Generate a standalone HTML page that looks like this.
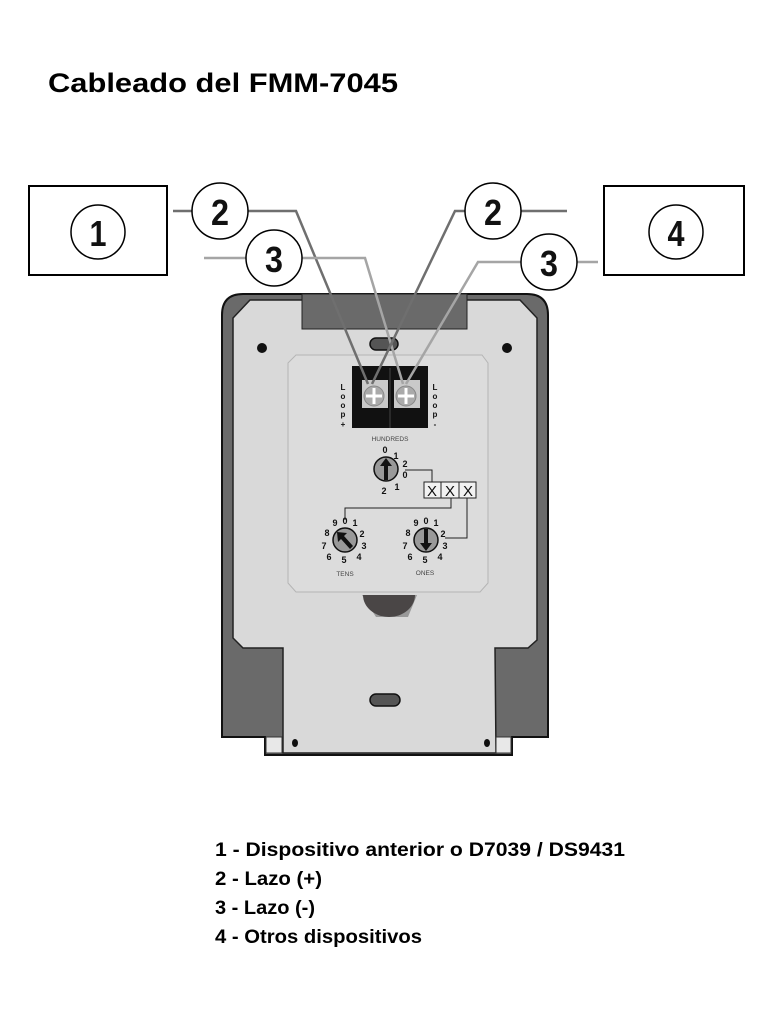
<!DOCTYPE html>
<html><head><meta charset="utf-8"><style>
html,body{margin:0;padding:0;background:#fff;width:768px;height:1024px;overflow:hidden}
svg{display:block}
.t{font-family:"Liberation Sans",sans-serif;font-weight:bold;fill:#000}
.n{font-family:"Liberation Sans",sans-serif;font-weight:bold;fill:#111;text-anchor:middle}
</style></head><body>
<svg width="768" height="1024" viewBox="0 0 768 1024" xmlns="http://www.w3.org/2000/svg">
<text class="t" x="48" y="92" font-size="27" textLength="350" lengthAdjust="spacingAndGlyphs">Cableado del FMM-7045</text>

<!-- boxes -->
<rect x="29" y="186" width="138" height="89" fill="#fff" stroke="#000" stroke-width="2"/>
<circle cx="98" cy="232" r="27" fill="#fff" stroke="#000" stroke-width="1.5"/>
<text class="n" x="98" y="246" font-size="36" textLength="17" lengthAdjust="spacingAndGlyphs">1</text>
<rect x="604" y="186" width="140" height="89" fill="#fff" stroke="#000" stroke-width="2"/>
<circle cx="676" cy="232" r="27" fill="#fff" stroke="#000" stroke-width="1.5"/>
<text class="n" x="676" y="246" font-size="36" textLength="17" lengthAdjust="spacingAndGlyphs">4</text>

<!-- housing -->
<path d="M222 315 Q222 294 243 294 L527 294 Q548 294 548 315 L548 737 L512 737 L512 755 L265 755 L265 737 L222 737 Z" fill="#6a6a6a" stroke="#111" stroke-width="2"/>
<path d="M250 300 L520 300 L537 318 L537 640 L528 648 L495 648 L496 753 L283 753 L283 648 L243 648 L233 638 L233 318 Z" fill="#d9d9d9" stroke="#222" stroke-width="1.5"/>
<rect x="266" y="737" width="16" height="16" fill="#e8e8e8" stroke="#333"/>
<rect x="496" y="737" width="15" height="16" fill="#e8e8e8" stroke="#333"/>
<rect x="302" y="294" width="165" height="35" fill="#6a6a6a" stroke="#222" stroke-width="1"/>
<circle cx="262" cy="348" r="5" fill="#111"/>
<circle cx="507" cy="348" r="5" fill="#111"/>
<rect x="370" y="338" width="28" height="12" rx="6" fill="#555" stroke="#111" stroke-width="1.5"/>
<rect x="370" y="694" width="30" height="12" rx="6" fill="#555" stroke="#111" stroke-width="1.5"/>
<ellipse cx="295" cy="743" rx="3" ry="4" fill="#111"/>
<ellipse cx="487" cy="743" rx="3" ry="4" fill="#111"/>
<path d="M362 595 L417 595 L408 617 L376 617 Z" fill="#999"/>
<path d="M363 595 A26 22 0 0 0 415 595 Z" fill="#4a4646"/>
<!-- inner panel -->
<path d="M296 355 L482 355 L488 363 L488 583 L480 592 L296 592 L288 583 L288 363 Z" fill="#dcdcdc" stroke="#b5b5b5" stroke-width="1"/>

<!-- terminal block -->
<rect x="352" y="366" width="76" height="62" fill="#111"/>
<rect x="362" y="380" width="26" height="28" fill="#c9c9c9"/>
<rect x="394" y="380" width="26" height="28" fill="#c9c9c9"/>
<circle cx="374" cy="396" r="10" fill="#aaa" stroke="#888"/>
<circle cx="406" cy="396" r="10" fill="#aaa" stroke="#888"/>
<path d="M366 396 H382 M374 388 V404 M398 396 H414 M406 388 V404" stroke="#fff" stroke-width="3"/>
<line x1="390" y1="368" x2="390" y2="428" stroke="#444" stroke-width="1"/>
<g font-family="Liberation Sans,sans-serif" font-weight="bold" font-size="8" fill="#111" text-anchor="middle">
<text x="343" y="390">L</text><text x="343" y="399">o</text><text x="343" y="408">o</text><text x="343" y="417">p</text><text x="343" y="427">+</text>
<text x="435" y="390">L</text><text x="435" y="399">o</text><text x="435" y="408">o</text><text x="435" y="417">p</text><text x="435" y="427">-</text>
</g>
<text x="390" y="441" font-family="Liberation Sans,sans-serif" font-size="6.5" fill="#444" text-anchor="middle">HUNDREDS</text>
<text x="345" y="576" font-family="Liberation Sans,sans-serif" font-size="6.5" fill="#444" text-anchor="middle">TENS</text>
<text x="425" y="575" font-family="Liberation Sans,sans-serif" font-size="6.5" fill="#444" text-anchor="middle">ONES</text>

<!-- dial connections -->
<path d="M405 470 H432 V482" fill="none" stroke="#222" stroke-width="1"/>
<path d="M451 498 V508 H345 V520" fill="none" stroke="#222" stroke-width="1"/>
<path d="M467 498 V538 H445" fill="none" stroke="#222" stroke-width="1"/>
<rect x="424" y="482" width="52" height="16" fill="#f2f2f2" stroke="#222"/>
<line x1="441" y1="482" x2="441" y2="498" stroke="#222"/><line x1="459" y1="482" x2="459" y2="498" stroke="#222"/>
<g font-family="Liberation Sans,sans-serif" font-size="15" fill="#111" text-anchor="middle"><text x="432" y="496">X</text><text x="450" y="496">X</text><text x="468" y="496">X</text></g>

<!-- dials -->
<circle cx="386" cy="469" r="12" fill="#999" stroke="#111" stroke-width="1.5"/>
<path d="M386 458 L380 466 H384 V480 H388 V466 H392 Z" fill="#111"/>
<circle cx="345" cy="540" r="12" fill="#999" stroke="#111" stroke-width="1.5"/>
<path d="M337 532 L347 533 L344 536 L353 546 L350 549 L341 539 L338 542 Z" fill="#111"/>
<circle cx="426" cy="540" r="12" fill="#999" stroke="#111" stroke-width="1.5"/>
<path d="M426 551 L420 543 H424 V529 H428 V543 H432 Z" fill="#111"/>
<g font-family="Liberation Sans,sans-serif" font-weight="bold" font-size="9" fill="#111" text-anchor="middle">
<text x="385" y="453">0</text><text x="396" y="459">1</text><text x="405" y="467">2</text><text x="405" y="478">0</text><text x="397" y="490">1</text><text x="384" y="494">2</text>
<text x="345" y="524">0</text><text x="335" y="526">9</text><text x="355" y="526">1</text><text x="327" y="536">8</text><text x="362" y="537">2</text><text x="324" y="549">7</text><text x="364" y="549">3</text><text x="329" y="560">6</text><text x="359" y="560">4</text><text x="344" y="563">5</text>
<text x="426" y="524">0</text><text x="416" y="526">9</text><text x="436" y="526">1</text><text x="408" y="536">8</text><text x="443" y="537">2</text><text x="405" y="549">7</text><text x="445" y="549">3</text><text x="410" y="560">6</text><text x="440" y="560">4</text><text x="425" y="563">5</text>
</g>

<!-- wires -->
<g fill="none" stroke-width="2.5">
<path d="M173 211 H192 M248 211 H296 L368 384" stroke="#6f6f6f"/>
<path d="M204 258 H246 M302 258 H365 L403 384" stroke="#a5a5a5"/>
<path d="M521 211 H567 M465 211 H455 L372 384" stroke="#6f6f6f"/>
<path d="M577 262 H598 M521 262 H478 L406 384" stroke="#a5a5a5"/>
</g>
<g fill="#fff" stroke="#000" stroke-width="1.5">
<circle cx="220" cy="211" r="28"/><circle cx="274" cy="258" r="28"/>
<circle cx="493" cy="211" r="28"/><circle cx="549" cy="262" r="28"/>
</g>
<text class="n" x="220" y="225" font-size="36" textLength="18" lengthAdjust="spacingAndGlyphs">2</text>
<text class="n" x="274" y="272" font-size="36" textLength="18" lengthAdjust="spacingAndGlyphs">3</text>
<text class="n" x="493" y="225" font-size="36" textLength="18" lengthAdjust="spacingAndGlyphs">2</text>
<text class="n" x="549" y="276" font-size="36" textLength="18" lengthAdjust="spacingAndGlyphs">3</text>

<!-- legend -->
<g class="t" font-size="19">
<text class="t" x="215" y="856" textLength="410" lengthAdjust="spacingAndGlyphs">1 - Dispositivo anterior o D7039 / DS9431</text>
<text class="t" x="215" y="885" textLength="107" lengthAdjust="spacingAndGlyphs">2 - Lazo (+)</text>
<text class="t" x="215" y="914" textLength="100" lengthAdjust="spacingAndGlyphs">3 - Lazo (-)</text>
<text class="t" x="215" y="943" textLength="207" lengthAdjust="spacingAndGlyphs">4 - Otros dispositivos</text>
</g>
</svg>
</body></html>
